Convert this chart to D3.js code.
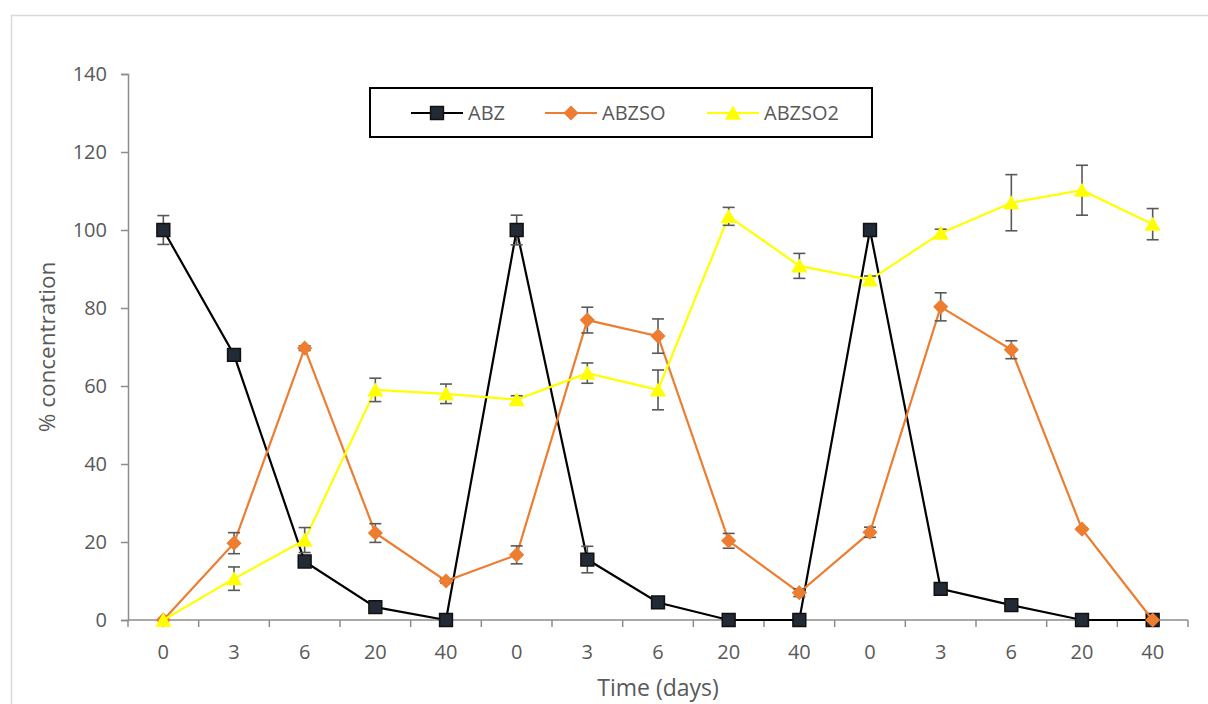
<!DOCTYPE html>
<html>
<head>
<meta charset="utf-8">
<script src="https://cdn.jsdelivr.net/npm/d3@7"></script>
<style>
  body { margin: 0; background: #fff; }
  svg text { font-family: "Open Sans", sans-serif; fill: #595959; }
</style>
</head>
<body>
<div id="chart"></div>
<script>
// data
let categories = ["0", "3", "6", "20", "40", "0", "3", "6", "20", "40", "0", "3", "6", "20", "40"];

let abz = [100, 68, 15, 3.3, 0, 100, 15.5, 4.5, 0, 0, 100, 8, 3.8, 0, 0];
let abzErr = [3.7, 0.8, 0.8, 0.5, 0, 3.8, 3.4, 0.5, 0, 0, 0.5, 1.5, 0.5, 0, 0];

let abzso = [0, 19.7, 69.7, 22.3, 10, 16.7, 76.9, 72.8, 20.3, 7, 22.5, 80.3, 69.3, 23.3, 0];
let abzsoErr = [0, 2.7, 0.6, 2.4, 0.5, 2.3, 3.3, 4.4, 1.9, 1.0, 1.3, 3.6, 2.3, 0.3, 0];

let abzso2 = [0, 10.6, 20.5, 59, 58, 56.5, 63.3, 59, 103.5, 90.8, 87.2, 99.2, 107, 110.2, 101.5];
let abzso2Err = [0, 3, 3.2, 3, 2.5, 1, 2.6, 5.1, 2.3, 3.2, 1, 1, 7.2, 6.4, 4];

let yTicks = [0, 20, 40, 60, 80, 100, 120, 140];

// square turned 45 degrees, as the spreadsheet draws its diamond
let diamond = {
    draw(context, size) {
        let r = Math.sqrt(size / 2);
        context.moveTo(0, -r);
        context.lineTo(r, 0);
        context.lineTo(0, r);
        context.lineTo(-r, 0);
        context.closePath();
    }
};

// triangle centred on its box, not its centroid
let triangle = {
    draw(context, size) {
        let s = Math.sqrt(size * 4 / Math.sqrt(3));
        let h = s * Math.sqrt(3) / 2;
        context.moveTo(0, -h / 2);
        context.lineTo(s / 2, h / 2);
        context.lineTo(-s / 2, h / 2);
        context.closePath();
    }
};

let series = [
    { name: "ABZ", values: abz, err: abzErr, color: "#000000", fill: "#222a35", stroke: "#111111", shape: d3.symbolSquare, size: 165 },
    { name: "ABZSO", values: abzso, err: abzsoErr, color: "#ed7d31", fill: "#ed7d31", stroke: "#ed7d31", shape: diamond, size: 85 },
    { name: "ABZSO2", values: abzso2, err: abzso2Err, color: "#ffff00", fill: "#ffff00", stroke: "#ffff00", shape: triangle, size: 80 }
];

let width = 1208, height = 704;
let svg = d3.select("#chart").append("svg")
    .attr("width", width)
    .attr("height", height);

// outer chart frame
svg.append("rect")
    .attr("x", 11.5).attr("y", 15.5)
    .attr("width", 1210).attr("height", 720)
    .attr("fill", "none")
    .attr("stroke", "#d9d9d9")
    .attr("stroke-width", 1.5);

let plot = { left: 128, right: 1188, top: 74, bottom: 620 };

let x = d3.scaleBand()
    .domain(d3.range(categories.length))
    .range([plot.left, plot.right]);

let y = d3.scaleLinear()
    .domain([0, 140])
    .range([plot.bottom, plot.top]);

let cx = i => x(i) + x.bandwidth() / 2;

// y axis
let yAxis = svg.append("g")
    .attr("transform", `translate(${plot.left},0)`)
    .call(d3.axisLeft(y).tickValues(yTicks).tickSize(7).tickPadding(14));
yAxis.select(".domain").attr("stroke", "#8c8c8c").attr("stroke-width", 1.5);
yAxis.selectAll(".tick line").attr("stroke", "#8c8c8c").attr("stroke-width", 1.5);
yAxis.selectAll(".tick text").attr("font-size", 20).style("fill", "#595959");

// x axis: ticks sit between categories
let xAxis = svg.append("g")
    .attr("transform", `translate(0,${plot.bottom})`);
xAxis.append("line")
    .attr("x1", plot.left).attr("x2", plot.right)
    .attr("stroke", "#8c8c8c").attr("stroke-width", 1.5);
xAxis.selectAll(".xtick")
    .data(d3.range(categories.length + 1))
    .enter()
    .append("line")
    .attr("x1", i => i < categories.length ? x(i) : plot.right)
    .attr("x2", i => i < categories.length ? x(i) : plot.right)
    .attr("y1", 0).attr("y2", 7)
    .attr("stroke", "#8c8c8c").attr("stroke-width", 1.5);
xAxis.selectAll(".xlabel")
    .data(categories)
    .enter()
    .append("text")
    .attr("x", (d, i) => cx(i))
    .attr("y", 39)
    .attr("text-anchor", "middle")
    .attr("font-size", 20)
    .text(d => d);

// axis titles
svg.append("text")
    .attr("x", 658).attr("y", 696)
    .attr("text-anchor", "middle")
    .attr("font-size", 23)
    .text("Time (days)");

svg.append("text")
    .attr("transform", "translate(55,347) rotate(-90)")
    .attr("text-anchor", "middle")
    .attr("font-size", 22.5)
    .text("% concentration");

// series
let line = d3.line().x((d, i) => cx(i)).y(d => y(d));

series.forEach(s => {
    let g = svg.append("g");

    g.append("path")
        .datum(s.values)
        .attr("d", line)
        .attr("fill", "none")
        .attr("stroke", s.color)
        .attr("stroke-width", 2.2);

    let errData = s.values.map((v, i) => ({ i, v, e: s.err[i] })).filter(d => d.e > 0);
    let eb = g.selectAll(".err")
        .data(errData)
        .enter()
        .append("g")
        .attr("stroke", "#595959")
        .attr("stroke-width", 1.6);
    eb.append("line")
        .attr("x1", d => cx(d.i)).attr("x2", d => cx(d.i))
        .attr("y1", d => y(d.v + d.e)).attr("y2", d => y(d.v - d.e));
    eb.append("line")
        .attr("x1", d => cx(d.i) - 6).attr("x2", d => cx(d.i) + 6)
        .attr("y1", d => y(d.v + d.e)).attr("y2", d => y(d.v + d.e));
    eb.append("line")
        .attr("x1", d => cx(d.i) - 6).attr("x2", d => cx(d.i) + 6)
        .attr("y1", d => y(d.v - d.e)).attr("y2", d => y(d.v - d.e));

    g.selectAll(".marker")
        .data(s.values)
        .enter()
        .append("path")
        .attr("transform", (d, i) => `translate(${cx(i)},${y(d)})`)
        .attr("d", d3.symbol().type(s.shape).size(s.size))
        .attr("fill", s.fill)
        .attr("stroke", s.stroke)
        .attr("stroke-width", 1.5);
});

// legend
let legend = svg.append("g");
legend.append("rect")
    .attr("x", 370).attr("y", 88)
    .attr("width", 502).attr("height", 49)
    .attr("fill", "#fff")
    .attr("stroke", "#000")
    .attr("stroke-width", 2);

let legendX = [411, 545, 707];
series.forEach((s, k) => {
    let lg = legend.append("g").attr("transform", `translate(${legendX[k]},113)`);
    lg.append("line")
        .attr("x1", 0).attr("x2", 52)
        .attr("stroke", s.color).attr("stroke-width", 2.2);
    lg.append("path")
        .attr("transform", "translate(26,0)")
        .attr("d", d3.symbol().type(s.shape).size(s.size))
        .attr("fill", s.fill)
        .attr("stroke", s.stroke)
        .attr("stroke-width", 1.5);
    lg.append("text")
        .attr("x", 57).attr("y", 7)
        .attr("font-size", 20)
        .text(s.name);
});
</script>
</body>
</html>
